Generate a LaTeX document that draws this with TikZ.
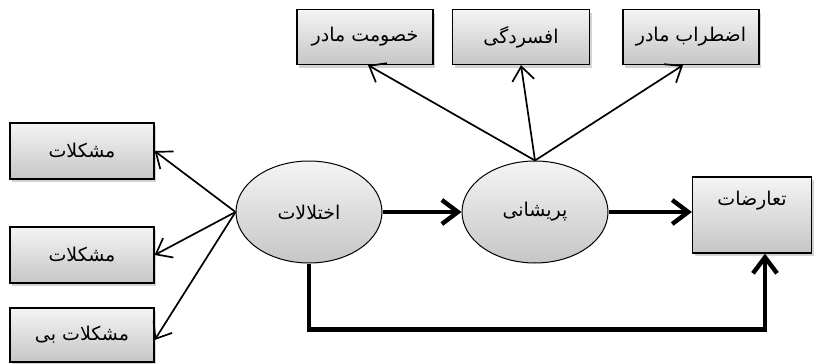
\documentclass[tikz,border=0pt]{standalone}
\usepackage{fontspec}
\newfontfamily\arabicfont[Script=Arabic]{DejaVu Sans}
\TeXXeTstate=1
\usetikzlibrary{arrows.meta,shadows,shapes.geometric,calc}
\definecolor{shtop}{HTML}{F4F4F4}
\definecolor{shbot}{HTML}{C6C6C6}
\tikzset{
  fa/.style={font=\arabicfont\fontsize{19}{22}\selectfont},
  box/.style={draw, line width=1.3pt, top color=shtop, bottom color=shbot, drop shadow={opacity=0.35, shadow xshift=2pt, shadow yshift=-3pt}, fa, inner sep=0pt},
  oval/.style={ellipse, draw, line width=1pt, top color=shtop, bottom color=shbot, minimum width=146pt, minimum height=102pt, fa, inner sep=0pt},
  thinarr/.style={line width=1.7pt, -{Straight Barb[length=14pt,width=22pt,line width=1.7pt]}},
  thickarr/.style={line width=4.4pt, -{Straight Barb[length=16pt,width=24pt,line width=4.4pt]}}
}
\begin{document}
\begin{tikzpicture}[x=1pt,y=-1pt]
\useasboundingbox (0,0) rectangle (828,364);
% top boxes
\node[box, minimum width=136pt, minimum height=55pt] (b1) at (365,37) {\beginR خصومت مادر\endR};
\node[box, minimum width=137pt, minimum height=55pt] (b2) at (521,37) {\beginR افسردگی\endR};
\node[box, minimum width=136pt, minimum height=55pt] (b3) at (691,37) {\beginR اضطراب مادر\endR};
% left boxes
\node[box, minimum width=144pt, minimum height=56pt] (l1) at (82,151) {\beginR مشکلات\endR};
\node[box, minimum width=144pt, minimum height=56pt] (l2) at (82,255) {\beginR مشکلات\endR};
\node[box, minimum width=144pt, minimum height=54pt] (l3) at (82,335) {\beginR مشکلات بی\endR};
% ellipses
\node[oval] (e1) at (309,212) {\beginR اختلالات\endR};
\node[oval] (e2) at (535,212) {\beginR پریشانی\endR};
% right box
\node[box, minimum width=119pt, minimum height=76pt] (r) at (752,215) {};
\node[fa] (rt) at ($(r.center)+(0,-14)$) {\beginR تعارضات\endR};
% thin arrows
\draw[thinarr] (e1.west) -- (l1.east);
\draw[thinarr] (e1.west) -- (l2.east);
\draw[thinarr] (e1.west) -- ([yshift=-5pt]l3.east);
\draw[thinarr] (e2.north) -- ([xshift=3pt]b1.south);
\draw[thinarr] (e2.north) -- (b2.south);
\draw[thinarr] (e2.north) -- ([xshift=-8pt]b3.south);
% thick arrows
\draw[thickarr] (e1.east) -- (e2.west);
\draw[thickarr] (e2.east) -- (e2.east -| r.west);
\draw[thickarr] (e1.south) -- ++(0,66) -| ([xshift=13pt]r.south);
\end{tikzpicture}
\end{document}
